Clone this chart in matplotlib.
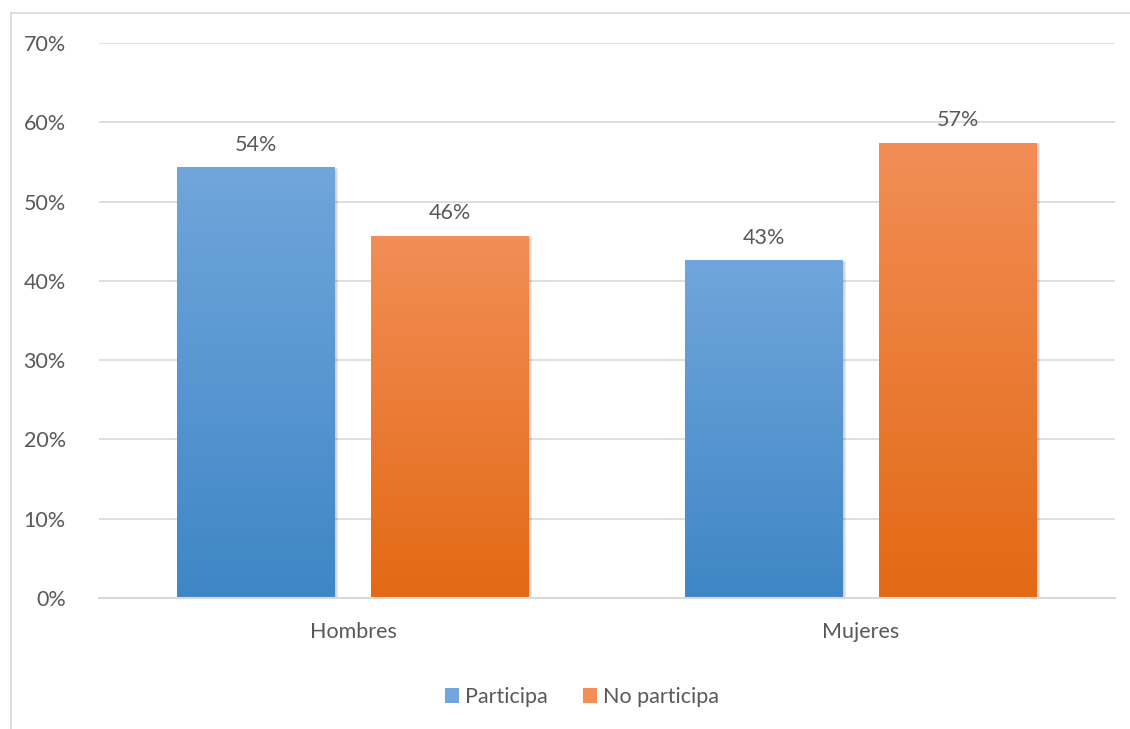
import matplotlib
matplotlib.use("Agg")
import matplotlib.pyplot as plt
from matplotlib.colors import LinearSegmentedColormap
from matplotlib.patches import Rectangle
import numpy as np

plt.rcParams['font.family'] = ['Lato', 'DejaVu Sans']

categories = ["Hombres", "Mujeres"]
series_names = ["Participa", "No participa"]
participa = [54.3, 42.6]
no_participa = [45.7, 57.4]
y_ticks = [0, 10, 20, 30, 40, 50, 60, 70]

text_col = "#595959"
grid_col = "#D9D9D9"
# gradient colours (top, bottom) per series
grads = [("#70A6DB", "#3F86C6"), ("#F28E56", "#E36914")]
fsize = 15.5

fig = plt.figure(figsize=(11.3, 7.29), dpi=100)
ax = fig.add_axes([99/1130, 131/729, (1115-99)/1130, (598-43)/729])

# chart area border (top and left only visible)
fig.add_artist(plt.Line2D([11/1130, 1.0], [1-13/729, 1-13/729], color=grid_col, lw=1.2, transform=fig.transFigure))
fig.add_artist(plt.Line2D([11/1130, 11/1130], [0, 1-13/729], color=grid_col, lw=1.2, transform=fig.transFigure))

x = np.arange(len(categories))
width = 0.311
offset = 0.191

ax.set_xlim(-0.5, 1.5)
ax.set_ylim(0, 70)

for i, vals in enumerate([participa, no_participa]):
    pos = x + (-offset if i == 0 else offset)
    cmap = LinearSegmentedColormap.from_list("g%d" % i, [grads[i][1], grads[i][0]])
    bars = ax.bar(pos, vals, width, color="none", edgecolor="none", zorder=3)
    for b, v in zip(bars, vals):
        bx, bw = b.get_x(), b.get_width()
        # soft shadow
        sh = Rectangle((bx + 0.002, -0.2), bw, v, facecolor="#000000", edgecolor="#000000",
                       lw=2, alpha=0.10, zorder=2.5)
        ax.add_patch(sh)
        grad = np.linspace(0, 1, 256).reshape(-1, 1)
        im = ax.imshow(grad, cmap=cmap, aspect="auto", origin="lower",
                       extent=[bx, bx + bw, 0, v], zorder=3)
        im.set_clip_path(b)
        ax.annotate("%d%%" % round(v), (bx + bw / 2, v), xytext=(0, 9),
                    textcoords="offset points", ha="center", va="bottom",
                    fontsize=fsize, color=text_col)
    ax.bar([0], [0], color=grads[i][0], label=series_names[i])

ax.set_xlim(-0.5, 1.5)
ax.set_ylim(0, 70)
ax.set_yticks(y_ticks)
ax.set_yticklabels(["%d%%" % t for t in y_ticks])
ax.set_xticks(x)
ax.set_xticklabels(categories)
ax.tick_params(axis="both", length=0, labelsize=fsize, colors=text_col)
ax.tick_params(axis="y", pad=24)
ax.tick_params(axis="x", pad=17)
ax.grid(axis="y", color=grid_col, lw=1.2, zorder=0)
ax.set_axisbelow(True)
for s in ["top", "right", "left"]:
    ax.spines[s].set_visible(False)
ax.spines["bottom"].set_color(grid_col)
ax.spines["bottom"].set_linewidth(1.5)
ax.spines["bottom"].set_zorder(4)

handles, labels = ax.get_legend_handles_labels()
fig.legend(handles, labels, loc="center", bbox_to_anchor=(582/1130, 1-697/729),
           ncol=2, frameon=False, fontsize=fsize, labelcolor=text_col,
           handlelength=0.65, handleheight=0.65, handletextpad=0.3, columnspacing=1.6)

fig.savefig("out.png", dpi=100, facecolor="white")
